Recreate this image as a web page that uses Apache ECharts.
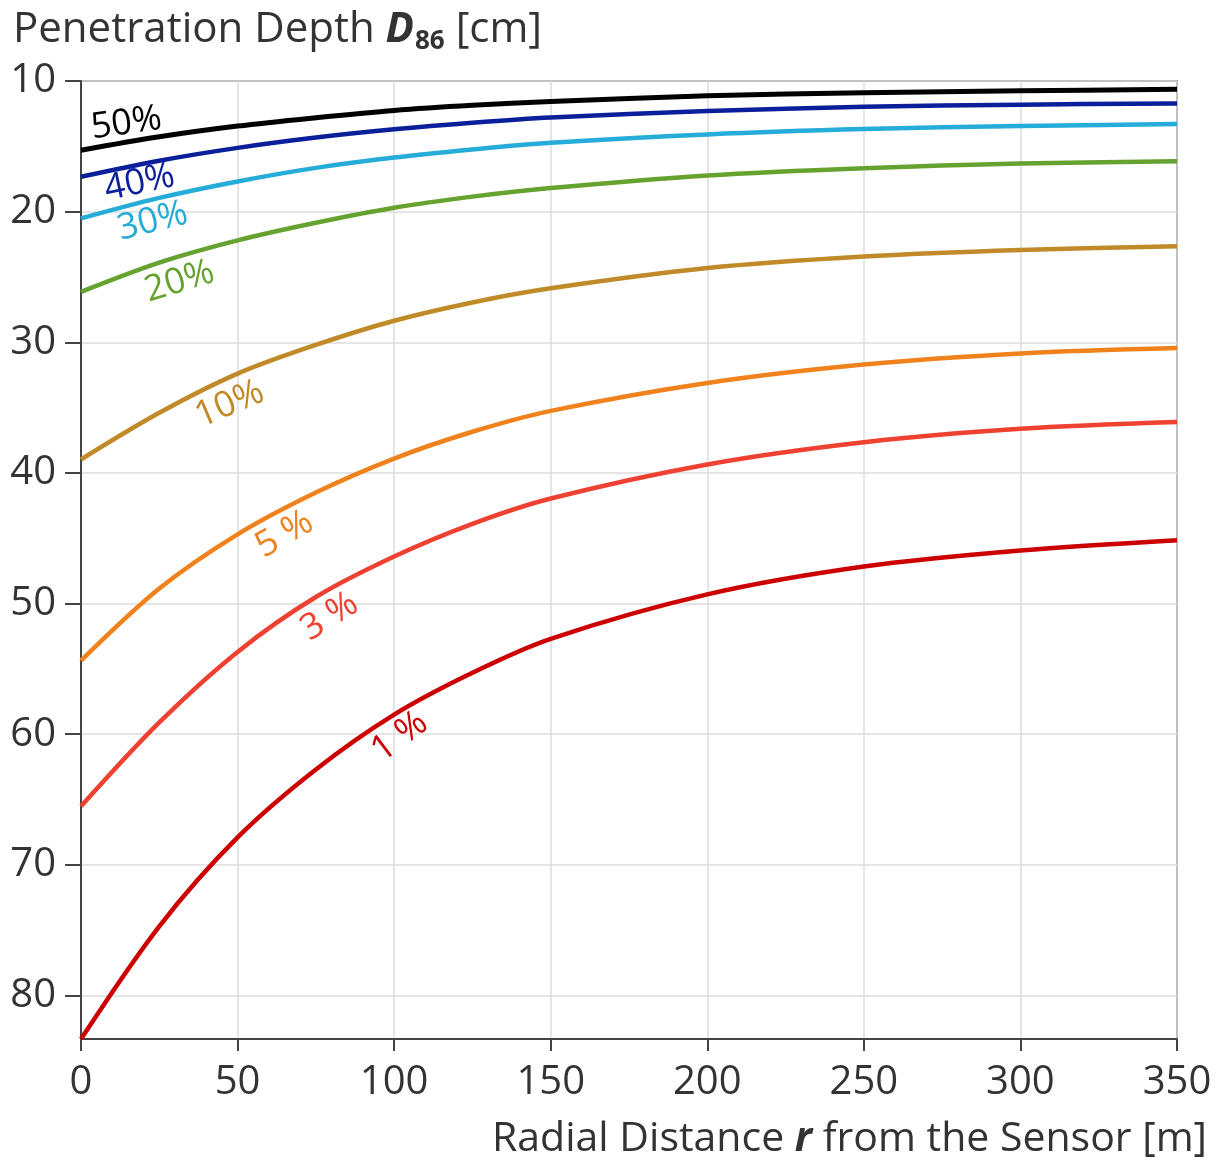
<!DOCTYPE html>
<html>
<head>
<meta charset="utf-8">
<script src="https://cdn.jsdelivr.net/npm/echarts@6/dist/echarts.min.js"></script>
<style>
html,body{margin:0;padding:0;background:#fff;}
#chart{width:1220px;height:1161px;}
</style>
</head>
<body>
<div id="chart"></div>
<script>
// Radial distance r [m]
const distances = [0, 25, 50, 75, 100, 125, 150, 200, 250, 300, 350];
// Penetration depth D86 [cm] for each soil moisture curve
const d50 = [15.3, 14.27, 13.45, 12.81, 12.25, 11.86, 11.57, 11.13, 10.90, 10.75, 10.64];
const d40 = [17.33, 16.10, 15.12, 14.33, 13.70, 13.20, 12.80, 12.30, 11.98, 11.81, 11.72];
const d30 = [20.52, 18.95, 17.69, 16.65, 15.86, 15.24, 14.73, 14.09, 13.68, 13.45, 13.30];
const d20 = [26.14, 23.9, 22.2, 20.85, 19.7, 18.85, 18.19, 17.23, 16.67, 16.32, 16.14];
const d10 = [38.97, 35.4, 32.4, 30.2, 28.35, 26.95, 25.87, 24.32, 23.44, 22.94, 22.65];
const d5 = [54.37, 48.85, 44.7, 41.5, 38.9, 36.85, 35.25, 33.11, 31.70, 30.85, 30.44];
const d3 = [65.52, 59.1, 53.7, 49.5, 46.4, 43.9, 41.96, 39.35, 37.65, 36.62, 36.10];
const d1 = [83.33, 74.7, 67.9, 62.7, 58.5, 55.3, 52.7, 49.3, 47.17, 45.94, 45.15];
const curveNames = ['50%', '40%', '30%', '20%', '10%', '5 %', '3 %', '1 %'];
const yTicks = [10, 20, 30, 40, 50, 60, 70, 80];
const xTicks = [0, 50, 100, 150, 200, 250, 300, 350];

// label anchor (data coords) and rotation for each curve label
const labelAnchors = [[14.5, 13.25], [18.7, 17.8], [22.9, 20.75], [31.5, 25.35], [47.5, 34.75], [65, 44.7], [79.4, 51.0], [101.8, 60.2]];
const labelRotate = [8, 12, 14, 17, 23, 30, 32, 37];
const colors = ['#000000', '#0b1f9a', '#25acd8', '#66a22f', '#c08a28', '#f0821e', '#ef4131', '#cc0000'];

const allSeries = [d50, d40, d30, d20, d10, d5, d3, d1];
const FONT = '"Open Sans", "Noto Sans", sans-serif';

const series = allSeries.map((vals, i) => ({
  name: curveNames[i],
  type: 'line',
  data: distances.map((r, k) => [r, vals[k]]),
  smooth: 0.33,
  symbol: 'none',
  clip: false,
  lineStyle: { color: colors[i], width: i === 0 ? 5 : 4.5 },
  markPoint: {
    symbol: 'circle',
    symbolSize: 1,
    itemStyle: { color: 'rgba(0,0,0,0)' },
    silent: true,
    data: [{
      coord: labelAnchors[i],
      label: {
        show: true,
        position: 'inside',
        formatter: curveNames[i],
        rotate: labelRotate[i],
        color: colors[i],
        fontSize: 36,
        fontFamily: FONT
      }
    }]
  }
}));

const chart = echarts.init(document.getElementById('chart'), null, { renderer: 'canvas' });
chart.setOption({
  backgroundColor: '#ffffff',
  animation: false,
  title: [{
    left: 13,
    top: 5,
    padding: 0,
    text: '{n|Penetration Depth }{b|D}{s|86}{n| [cm]}',
    textStyle: {
      fontWeight: 'normal',
      rich: {
        n: { fontSize: 42, fontFamily: FONT, color: '#333', fontWeight: 'normal', lineHeight: 50 },
        b: { fontSize: 42, fontFamily: FONT, color: '#333', fontWeight: 'bold', fontStyle: 'italic', lineHeight: 50 },
        s: { fontSize: 26, fontFamily: FONT, color: '#333', fontWeight: 'bold', verticalAlign: 'bottom', padding: [0, 0, 0, 1] }
      }
    }
  }, {
    right: 13,
    top: 1114,
    padding: 0,
    text: '{n|Radial Distance }{b|r}{n| from the Sensor [m]}',
    textStyle: {
      fontWeight: 'normal',
      rich: {
        n: { fontSize: 41, fontFamily: FONT, color: '#333', fontWeight: 'normal', lineHeight: 50 },
        b: { fontSize: 41, fontFamily: FONT, color: '#333', fontWeight: 'bold', fontStyle: 'italic', lineHeight: 50 }
      }
    }
  }],
  grid: {
    left: 81, right: 43, top: 81, bottom: 122,
    show: true, borderColor: '#444', borderWidth: 1.5, backgroundColor: 'transparent'
  },
  xAxis: {
    type: 'value',
    min: 0, max: 350, interval: 50,
    axisLine: { show: true, lineStyle: { color: '#444', width: 2 } },
    axisTick: { show: true, length: 12, lineStyle: { color: '#444', width: 2 }, customValues: xTicks },
    axisLabel: { fontSize: 40, fontFamily: FONT, color: '#333', margin: 24, customValues: xTicks },
    splitLine: { show: true, lineStyle: { color: '#dcdcdc', width: 1.5 } }
  },
  yAxis: {
    type: 'value',
    inverse: true,
    min: 10, max: 83.33, interval: 10,
    axisLine: { show: true, lineStyle: { color: '#444', width: 2 } },
    axisTick: { show: true, length: 16, lineStyle: { color: '#444', width: 2 }, customValues: yTicks },
    axisLabel: { fontSize: 40, fontFamily: FONT, color: '#333', margin: 25, customValues: yTicks },
    splitLine: { show: true, lineStyle: { color: '#dcdcdc', width: 1.5 } }
  },
  series: series
});
</script>
</body>
</html>
